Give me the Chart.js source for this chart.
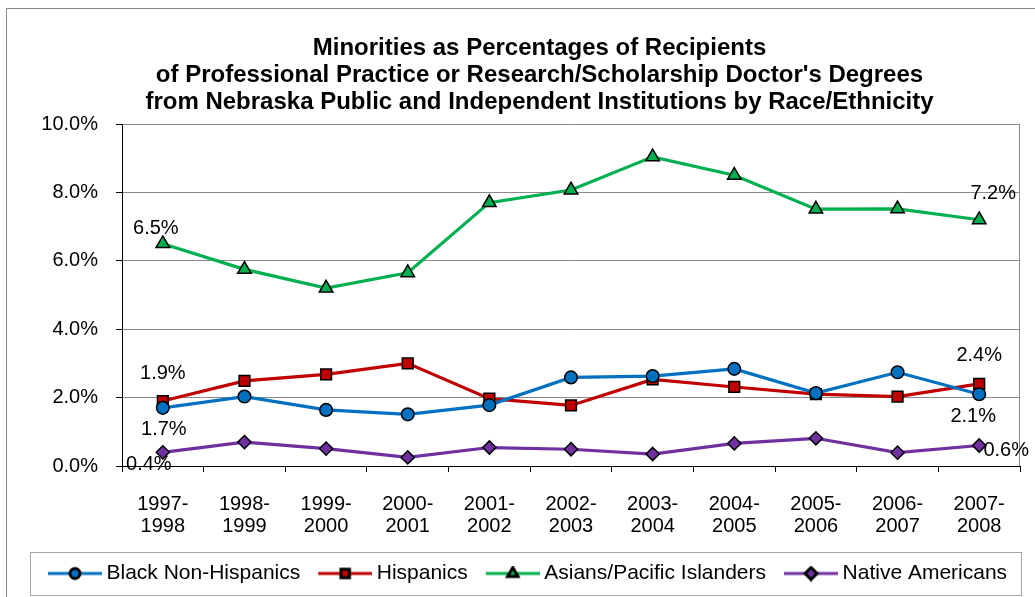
<!DOCTYPE html>
<html>
<head>
<meta charset="utf-8">
<script src="https://cdn.jsdelivr.net/npm/chart.js@4.4.1/dist/chart.umd.min.js"></script>
<style>
  html, body { margin: 0; padding: 0; background: #fff; }
  #wrap { width: 1035px; height: 597px; }
</style>
</head>
<body>
<div id="wrap"><canvas id="minorityChart" width="1035" height="597"></canvas></div>
<script>
// academic years on the x axis
const years = ['1997-1998', '1998-1999', '1999-2000', '2000-2001', '2001-2002', '2002-2003',
               '2003-2004', '2004-2005', '2005-2006', '2006-2007', '2007-2008'];

// share of doctor's degree recipients, in percent
const blackNonHispanic = [1.7, 2.03, 1.64, 1.51, 1.78, 2.59, 2.63, 2.84, 2.13, 2.74, 2.1];
const hispanic         = [1.9, 2.49, 2.68, 3.0, 1.97, 1.77, 2.53, 2.31, 2.1, 2.03, 2.4];
const asianPacific     = [6.5, 5.75, 5.2, 5.65, 7.7, 8.07, 9.04, 8.5, 7.51, 7.52, 7.2];
const nativeAmerican   = [0.4, 0.7, 0.51, 0.25, 0.54, 0.49, 0.35, 0.66, 0.81, 0.39, 0.6];

const yTicks = [0, 2, 4, 6, 8, 10];

const seriesNames  = ['Black Non-Hispanics', 'Hispanics', 'Asians/Pacific Islanders', 'Native Americans'];
const seriesColors = ['#0070C0', '#C00000', '#00B050', '#7030A0'];
const seriesStyles = ['circle', 'rect', 'triangle', 'rectRot'];
const pointSizes   = [6.3, 7.6, 7.8, 6.6];

// where the first / last value labels sit relative to their point
const labelOffsets = [
    [[1, 22], [-6, 22]],
    [[0, -28], [0, -28]],
    [[-7, -15], [14, -26]],
    [[-14, 12], [27, 5]]
];

const FONT = "'Liberation Sans', Arial, sans-serif";

// line+marker icons for the legend; the line sits at the right of the
// canvas so it lines up with the gap Chart.js leaves before the text
function makeIcon(color, style) {
    const c = document.createElement('canvas');
    c.width = 68; c.height = 16;
    const g = c.getContext('2d');
    g.strokeStyle = color; g.lineWidth = 3;
    g.beginPath(); g.moveTo(14, 8); g.lineTo(68, 8); g.stroke();
    g.fillStyle = color; g.strokeStyle = '#000';
    Chart.helpers.drawPoint(g, { pointStyle: style, radius: style === 'circle' ? 5 : 6, borderWidth: 1.5 }, 41, 8);
    return c;
}
const legendIcons = seriesColors.map((c, i) => makeIcon(c, seriesStyles[i]));

const framePlugin = {
    id: 'frame',
    beforeDraw(chart) {
        const ctx = chart.ctx;
        ctx.save();
        ctx.fillStyle = '#fff';
        ctx.fillRect(0, 0, chart.width, chart.height);
        ctx.strokeStyle = '#8a8a8a';
        ctx.lineWidth = 1;
        ctx.strokeRect(6.5, 8.5, chart.width + 10, chart.height + 10);
        ctx.restore();
    },
    beforeDatasetsDraw(chart) {
        const { ctx, chartArea } = chart;
        ctx.save();
        ctx.strokeStyle = '#8a8a8a';
        ctx.lineWidth = 1;
        ctx.beginPath();
        ctx.moveTo(Math.round(chartArea.right) - 0.5, chartArea.top);
        ctx.lineTo(Math.round(chartArea.right) - 0.5, chartArea.bottom);
        ctx.stroke();
        ctx.restore();
    },
    afterDatasetsDraw(chart) {
        const ctx = chart.ctx;
        ctx.save();
        ctx.font = '20px ' + FONT;
        ctx.fillStyle = '#000';
        ctx.textAlign = 'center';
        ctx.textBaseline = 'middle';
        chart.data.datasets.forEach((ds, i) => {
            const pts = chart.getDatasetMeta(i).data;
            [0, pts.length - 1].forEach((idx, k) => {
                const off = labelOffsets[i][k];
                ctx.fillText(ds.data[idx].toFixed(1) + '%', pts[idx].x + off[0], pts[idx].y + off[1]);
            });
        });
        ctx.restore();
    },
    afterDraw(chart) {
        // box around the legend
        const lg = chart.legend;
        const boxes = lg.legendHitBoxes;
        if (!boxes || !boxes.length) return;
        const last = boxes[boxes.length - 1];
        const ctx = chart.ctx;
        ctx.save();
        ctx.strokeStyle = '#a6a6a6';
        ctx.lineWidth = 1;
        const l = Math.round(boxes[0].left - 10) + 0.5;
        const r = Math.round(last.left + last.width + 14) + 0.5;
        const t = Math.round(lg.top - 1) + 0.5;
        const b = Math.round(lg.bottom + 1) + 0.5;
        ctx.strokeRect(l, t, r - l, b - t);
        ctx.restore();
    }
};

new Chart(document.getElementById('minorityChart'), {
    type: 'line',
    data: {
        labels: years,
        datasets: [blackNonHispanic, hispanic, asianPacific, nativeAmerican].map((vals, i) => ({
            label: seriesNames[i],
            data: vals,
            yAxisID: 'y',
            borderColor: seriesColors[i],
            backgroundColor: seriesColors[i],
            borderWidth: 3.2,
            tension: 0,
            pointStyle: seriesStyles[i],
            pointRadius: pointSizes[i],
            pointBorderColor: '#000',
            pointBorderWidth: 1.5,
            pointBackgroundColor: seriesColors[i]
        }))
    },
    options: {
        responsive: false,
        animation: false,
        layout: { padding: { top: 0, left: 30, right: -14, bottom: 3 } },
        plugins: {
            title: {
                display: true,
                text: ['Minorities as Percentages of Recipients',
                       "of Professional Practice or Research/Scholarship Doctor's Degrees",
                       'from Nebraska Public and Independent Institutions by Race/Ethnicity'],
                color: '#000',
                font: { family: FONT, size: 24, weight: 'bold', lineHeight: '27px' },
                padding: { top: 35, bottom: 8 }
            },
            legend: {
                position: 'bottom',
                align: 'start',
                labels: {
                    usePointStyle: true,
                    pointStyleWidth: 56,
                    padding: 10,
                    color: '#000',
                    font: { family: FONT, size: 21 },
                    generateLabels: chart => Chart.defaults.plugins.legend.labels.generateLabels(chart)
                        .map((item, i) => Object.assign(item, { pointStyle: legendIcons[i] }))
                }
            },
            tooltip: { enabled: false }
        },
        scales: {
            x: {
                offset: true,
                afterFit: s => { s.height = 87; },
                grid: { display: true, offset: true, drawOnChartArea: false, tickLength: 6, tickColor: '#000' },
                border: { display: true, color: '#000', width: 1 },
                ticks: {
                    color: '#000',
                    padding: 21,
                    maxRotation: 0,
                    autoSkip: false,
                    font: { family: FONT, size: 20, lineHeight: 1.12 },
                    callback: function (v) {
                        const s = this.getLabelForValue(v);
                        return [s.slice(0, 5), s.slice(5)];
                    }
                }
            },
            y: {
                min: 0,
                max: 10,
                afterFit: s => { s.width = 92; },
                afterBuildTicks: s => { s.ticks = yTicks.map(v => ({ value: v })); },
                grid: {
                    color: c => c.tick && c.tick.value === 0 ? 'rgba(0,0,0,0)' : '#8a8a8a',
                    tickColor: '#000',
                    tickLength: 6
                },
                border: { display: true, color: '#000', width: 1 },
                ticks: {
                    color: '#000',
                    padding: 18,
                    font: { family: FONT, size: 20 },
                    callback: v => v.toFixed(1) + '%'
                }
            },
            // empty right-hand gutter between the plot and the frame
            gutter: {
                type: 'linear',
                position: 'right',
                afterFit: s => { s.width = 29; },
                grid: { display: false },
                border: { display: false },
                ticks: { display: false }
            }
        }
    },
    plugins: [framePlugin]
});
</script>
</body>
</html>
